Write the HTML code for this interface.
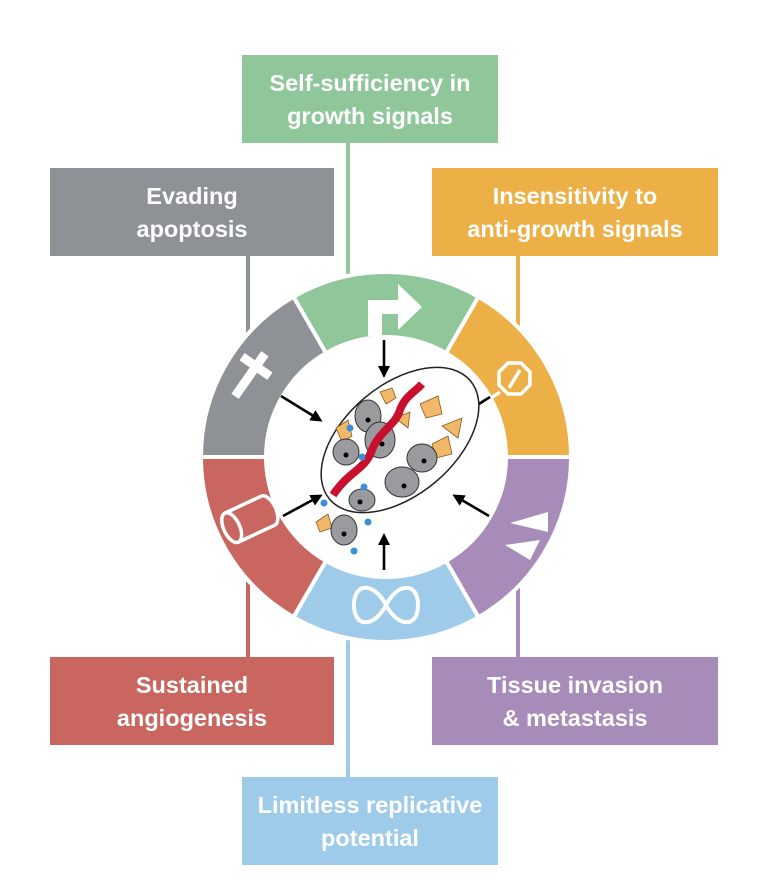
<!DOCTYPE html>
<html><head><meta charset="utf-8"><style>
html,body{margin:0;padding:0;background:#fff;}
svg{display:block;}
text{font-family:"Liberation Sans",sans-serif;font-weight:bold;fill:#fff;font-size:23.5px;text-anchor:middle;}
</style></head><body>
<svg width="768" height="889" viewBox="0 0 768 889" xmlns="http://www.w3.org/2000/svg">
<rect width="768" height="889" fill="#fff"/>
<g stroke-width="4">
<line x1="348" y1="140" x2="348" y2="290" stroke="#8fc79b"/>
<line x1="248" y1="254" x2="248" y2="340" stroke="#8e9196"/>
<line x1="518" y1="254" x2="518" y2="340" stroke="#ecb046"/>
<line x1="248" y1="580" x2="248" y2="660" stroke="#c8665f"/>
<line x1="348" y1="620" x2="348" y2="780" stroke="#9ecbea"/>
<line x1="518" y1="580" x2="518" y2="660" stroke="#a78bb8"/>
</g>
<rect x="242" y="55" width="256" height="88" fill="#8fc79b"/>
<text x="370" y="91">Self-sufficiency in</text><text x="370" y="124">growth signals</text>
<rect x="50" y="168" width="284" height="88" fill="#8e9196"/>
<text x="192" y="204">Evading</text><text x="192" y="237">apoptosis</text>
<rect x="432" y="168" width="286" height="88" fill="#ecb046"/>
<text x="575" y="204">Insensitivity to</text><text x="575" y="237">anti-growth signals</text>
<rect x="50" y="657" width="284" height="88" fill="#c8665f"/>
<text x="192" y="693">Sustained</text><text x="192" y="726">angiogenesis</text>
<rect x="432" y="657" width="286" height="88" fill="#a78bb8"/>
<text x="575" y="693">Tissue invasion</text><text x="575" y="726">&amp; metastasis</text>
<rect x="242" y="777" width="256" height="88" fill="#9ecbea"/>
<text x="370" y="813">Limitless replicative</text><text x="370" y="846">potential</text>
<g transform="translate(386,457)" stroke="#fff" stroke-width="4">
<path d="M92.5,-160.2 A185,185 0 0 0 -92.5,-160.2 L-60,-103.9 A120,120 0 0 1 60,-103.9 Z" fill="#8fc79b"/>
<path d="M-92.5,-160.2 A185,185 0 0 0 -185,0 L-120,0 A120,120 0 0 1 -60,-103.9 Z" fill="#8e9196"/>
<path d="M92.5,-160.2 A185,185 0 0 1 185,0 L120,0 A120,120 0 0 0 60,-103.9 Z" fill="#ecb046"/>
<path d="M-185,0 A185,185 0 0 0 -92.5,160.2 L-60,103.9 A120,120 0 0 1 -120,0 Z" fill="#c8665f"/>
<path d="M185,0 A185,185 0 0 1 92.5,160.2 L60,103.9 A120,120 0 0 0 120,0 Z" fill="#a78bb8"/>
<path d="M-92.5,160.2 A185,185 0 0 0 92.5,160.2 L60,103.9 A120,120 0 0 1 -60,103.9 Z" fill="#9ecbea"/>
</g>
<path d="M368,336 L368,300 L398,300 L398,284 L422,307 L398,330 L398,314 L382,314 L382,336 Z" fill="#fff"/>
<g transform="translate(250,375) rotate(35)" fill="#fff"><rect x="-4.5" y="-26" width="9" height="52"/><rect x="-17" y="-15" width="34" height="9"/></g>
<g stroke="#fff" stroke-width="3.5" fill="none">
<polygon points="508,363 521,363 530,372 530,385 521,394 508,394 499,385 499,372"/>
<line x1="520" y1="370" x2="509" y2="388"/>
<line x1="500" y1="392" x2="478" y2="407"/>
<g transform="translate(248,520) rotate(-25)"><ellipse cx="-18" cy="0" rx="8" ry="16"/><path d="M-18,-16 L22,-16 M-18,16 L22,16"/><path d="M22,-16 A8,16 0 0 1 22,16"/></g>
</g>
<path d="M386,605 C398,582 418,582 418,605 C418,628 398,628 386,605 C374,582 354,582 354,605 C354,628 374,628 386,605 Z" fill="none" stroke="#fff" stroke-width="4"/>
<polygon points="548,512 510,523 548,532" fill="#fff"/>
<polygon points="540,540 505,545 530,560" fill="#fff"/>
<defs><marker id="a" markerWidth="12" markerHeight="12" refX="9" refY="6" orient="auto" markerUnits="userSpaceOnUse"><path d="M0,0 L12,6 L0,12 Z" fill="#000"/></marker></defs>
<g stroke="#000" stroke-width="2.6" marker-end="url(#a)">
<line x1="384" y1="340" x2="384" y2="375"/>
<line x1="281" y1="396" x2="320" y2="420"/>
<line x1="490" y1="397" x2="455" y2="419"/>
<line x1="283" y1="516" x2="320" y2="496"/>
<line x1="489" y1="516" x2="455" y2="496"/>
<line x1="384" y1="570" x2="384" y2="536"/>
</g>
<ellipse cx="400" cy="440" rx="92" ry="55" transform="rotate(-40 400 440)" fill="#fff" stroke="#222" stroke-width="1.5"/>
<g fill="#f0b868" stroke="#8a5a20" stroke-width="0.8">
<polygon points="380,392 392,388 396,398 386,404"/>
<polygon points="420,404 438,396 442,414 426,418"/>
<polygon points="432,444 448,436 452,454 436,458"/>
<polygon points="336,428 348,420 352,436 342,442"/>
<polygon points="316,522 328,514 332,528 320,532"/>
<polygon points="442,426 462,418 458,438"/>
<polygon points="395,418 410,412 408,428"/>
</g>
<g fill="#9a9b9f" stroke="#333" stroke-width="1">
<ellipse cx="368" cy="416" rx="13" ry="16"/>
<ellipse cx="380" cy="440" rx="15" ry="18"/>
<ellipse cx="346" cy="452" rx="13" ry="13"/>
<ellipse cx="422" cy="458" rx="15" ry="14"/>
<ellipse cx="402" cy="482" rx="17" ry="15"/>
<ellipse cx="362" cy="500" rx="13" ry="11"/>
<ellipse cx="344" cy="530" rx="13" ry="15"/>
</g>
<g fill="#000"><circle cx="368" cy="420" r="2.5"/><circle cx="382" cy="444" r="2.5"/><circle cx="346" cy="455" r="2.5"/><circle cx="424" cy="461" r="2.5"/><circle cx="404" cy="486" r="2.5"/><circle cx="360" cy="502" r="2.5"/><circle cx="344" cy="534" r="2.5"/></g>
<path d="M333,495 C350,470 365,470 372,450 C380,430 395,426 400,410 C405,396 415,392 422,384" fill="none" stroke="#c8102e" stroke-width="8"/>
<g fill="#3d8fd6"><circle cx="350" cy="428" r="3.5"/><circle cx="362" cy="457" r="3.5"/><circle cx="364" cy="487" r="3.5"/><circle cx="324" cy="503" r="3.5"/><circle cx="368" cy="522" r="3.5"/><circle cx="354" cy="551" r="3.5"/></g>
</svg>
</body></html>
